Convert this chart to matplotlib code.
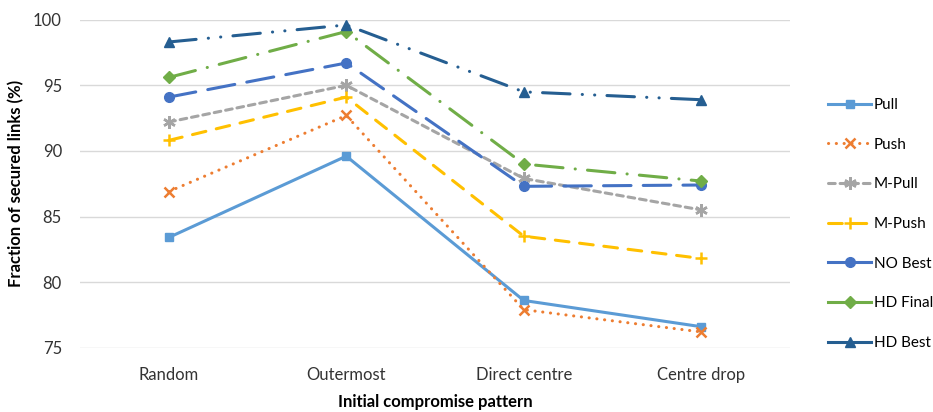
import matplotlib
matplotlib.use("Agg")
import matplotlib.pyplot as plt
from matplotlib.lines import Line2D

plt.rcParams['font.family'] = ['Lato', 'DejaVu Sans']

patterns = ["Random", "Outermost", "Direct centre", "Centre drop"]

pull = [83.4, 89.6, 78.6, 76.6]
push = [86.9, 92.7, 77.9, 76.2]
m_pull = [92.2, 95.0, 87.9, 85.5]
m_push = [90.8, 94.1, 83.5, 81.8]
no_best = [94.1, 96.7, 87.3, 87.4]
hd_final = [95.6, 99.1, 89.0, 87.7]
hd_best = [98.3, 99.6, 94.5, 93.9]

lw = 2.2
fs = 12
# name, values, colour, dash pattern, marker, marker size
series = [
    ("Pull", pull, "#5B9BD5", "-", "s", 6),
    ("Push", push, "#ED7D31", (0, (0.05, 2.5)), "x", 7),
    ("M-Pull", m_pull, "#A5A5A5", (0, (2.2, 1.6)), (6, 2, 0), 9),
    ("M-Push", m_push, "#FFC000", (0, (4.5, 3.5)), "+", 9),
    ("NO Best", no_best, "#4472C4", (0, (9, 4)), "o", 7),
    ("HD Final", hd_final, "#70AD47", (0, (9, 4, 0.05, 4)), "D", 6),
    ("HD Best", hd_best, "#255E91", (0, (9, 4, 0.05, 4, 0.05, 4)), "^", 7),
]

fig = plt.figure(figsize=(9.33, 4.12), dpi=100)
ax = fig.add_axes([80 / 933, 64.3 / 412, 710 / 933, 328 / 412])

x = list(range(len(patterns)))
handles = []
for name, vals, col, ls, mk, ms in series:
    mew = 1.8 if mk in ("x", "+", (6, 2, 0)) else 1
    ax.plot(x, vals, color=col, linestyle=ls, linewidth=lw,
            marker=mk, markersize=ms, markeredgewidth=mew,
            markerfacecolor=col, markeredgecolor=col,
            dash_capstyle='round', solid_joinstyle='round', label=name)
    # long dashes are longer than the legend sample, so those show solid
    hls = "-" if isinstance(ls, tuple) and ls[1][0] > 5 else ls
    handles.append(Line2D([0], [0], color=col, linewidth=lw, marker=mk,
                          markersize=ms, markeredgewidth=mew,
                          markerfacecolor=col, markeredgecolor=col,
                          linestyle=hls, dash_capstyle='round'))

ax.set_xlim(-0.5, len(patterns) - 0.5)
ax.set_ylim(75, 100)
ax.set_yticks([75, 80, 85, 90, 95, 100])
ax.set_xticks(x)
ax.set_xticklabels(patterns)
ax.grid(axis='y', color='#D9D9D9', linewidth=1)
ax.set_axisbelow(True)
for s in ax.spines.values():
    s.set_visible(False)
ax.tick_params(axis='both', length=0, labelsize=fs, colors='#333333')
ax.tick_params(axis='x', pad=14)
ax.tick_params(axis='y', pad=13)

ax.set_xlabel("Initial compromise pattern", fontsize=fs, fontweight='bold', labelpad=8)
ax.set_ylabel("Fraction of secured links (%)", fontsize=fs, fontweight='bold', labelpad=6)

fig.legend(handles, [s[0] for s in series], loc='upper left',
           bbox_to_anchor=(822 / 933, 1 - 92 / 412), frameon=False,
           fontsize=11, handlelength=2.8, handletextpad=0.2,
           labelspacing=1.68, borderaxespad=0)

fig.savefig("out.png", dpi=100)
